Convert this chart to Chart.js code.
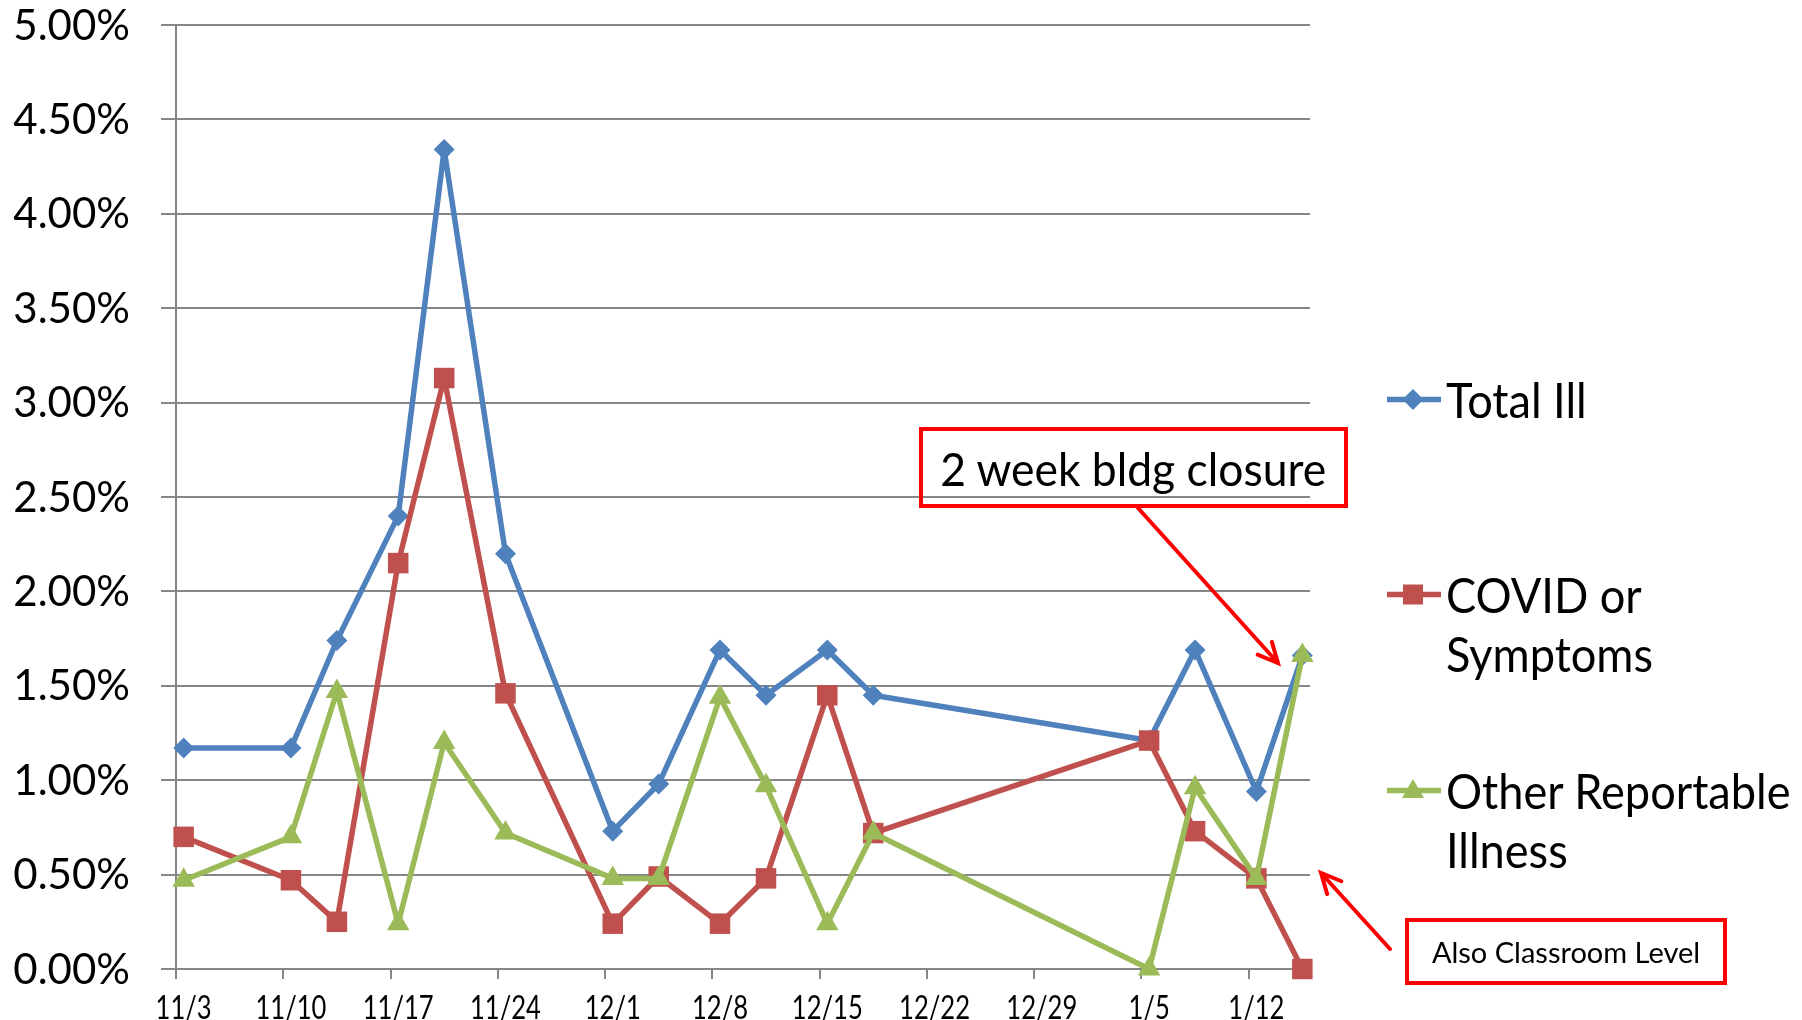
<!DOCTYPE html>
<html>
<head>
<meta charset="utf-8">
<script src="https://cdn.jsdelivr.net/npm/chart.js@4.4.1/dist/chart.umd.min.js"></script>
<style>
    html, body { margin: 0; padding: 0; background: #fff; }
    #wrap { position: relative; width: 1802px; height: 1020px; font-family: Lato, 'Liberation Sans', sans-serif; color: #000; }
    #chart { position: absolute; left: 0; top: 0; }
    .legend-item { position: absolute; left: 1386px; display: flex; align-items: flex-start; font-size: 48px; line-height: 59px; white-space: nowrap; }
    .legend-item svg { flex: none; margin-right: 4px; }
    .legend-item .txt { transform: scaleX(0.94); transform-origin: left center; }
    .note { position: absolute; box-sizing: border-box; border: 4px solid #ff0000; display: flex; align-items: center; justify-content: center; white-space: nowrap; }
    .note span { display: inline-block; transform-origin: center center; }
</style>
</head>
<body>
<div id="wrap">
    <canvas id="chart" width="1802" height="1020"></canvas>
    <div id="legend"></div>
    <div class="note" style="left:919px; top:427px; width:429px; height:81px; font-size:47px;"><span style="transform: scaleX(0.945);">2 week bldg closure</span></div>
    <div class="note" style="left:1405px; top:918px; width:322px; height:67px; font-size:29px;"><span>Also Classroom Level</span></div>
</div>
<script>
// report dates (Nov 2020 - Jan 2021)
const dates = ['2020-11-03', '2020-11-10', '2020-11-13', '2020-11-17', '2020-11-20', '2020-11-24',
    '2020-12-01', '2020-12-04', '2020-12-08', '2020-12-11', '2020-12-15', '2020-12-18',
    '2021-01-05', '2021-01-08', '2021-01-12', '2021-01-15'];

// percent of students
const totalIll = [1.17, 1.17, 1.74, 2.40, 4.34, 2.20, 0.73, 0.98, 1.69, 1.45, 1.69, 1.45, 1.21, 1.69, 0.94, 1.66];
const covid    = [0.70, 0.47, 0.25, 2.15, 3.13, 1.46, 0.24, 0.49, 0.24, 0.48, 1.45, 0.72, 1.21, 0.73, 0.48, 0.00];
const other    = [0.47, 0.70, 1.47, 0.24, 1.20, 0.72, 0.48, 0.48, 1.44, 0.97, 0.24, 0.72, 0.00, 0.96, 0.48, 1.66];

const seriesNames = ['Total Ill', ['COVID or', 'Symptoms'], ['Other Reportable', 'Illness']];
const axisStart = '2020-11-03';
const axisDays = 74;
const yTicks = { min: 0, max: 5, step: 0.5 };

const DAY = 86400000;
const t0 = Date.parse(axisStart);

// excel date axis puts each point (and label) in the middle of its day
function toPoints(values) {
    return values.map((v, i) => ({ x: (Date.parse(dates[i]) - t0) / DAY + 0.5, y: v }));
}

function dayLabel(value) {
    const d = new Date(t0 + value * DAY);
    return (d.getUTCMonth() + 1) + '/' + d.getUTCDate();
}

const colors = ['#4f81bd', '#c0504d', '#9bbb59'];
const shapes = ['rectRot', 'rect', 'triangle'];
const radii = [10.5, 14.5, 13];
const lineW = 5.5;

// legend (html so the wrapped labels sit like the original)
const legendTops = [370, 565, 761];
const legendEl = document.getElementById('legend');
seriesNames.forEach((name, i) => {
    const lines = Array.isArray(name) ? name : [name];
    let marker = '';
    if (i === 0) marker = '<polygon points="27,19 37.5,29.5 27,40 16.5,29.5" fill="' + colors[i] + '"/>';
    if (i === 1) marker = '<rect x="17" y="19.5" width="20" height="20" fill="' + colors[i] + '"/>';
    if (i === 2) marker = '<polygon points="27,18 38,37 16,37" fill="' + colors[i] + '"/>';
    const div = document.createElement('div');
    div.className = 'legend-item';
    div.style.top = legendTops[i] + 'px';
    div.innerHTML = '<svg width="56" height="59"><line x1="1" y1="29.5" x2="55" y2="29.5" stroke="' + colors[i] +
        '" stroke-width="' + lineW + '"/>' + marker + '</svg><div class="txt">' + lines.join('<br>') + '</div>';
    legendEl.appendChild(div);
});

// red call-out arrows
const arrows = [
    { from: [1138, 508], to: [1278, 663] },
    { from: [1390, 949], to: [1321, 873] }
];

const arrowPlugin = {
    id: 'arrows',
    afterDraw(chart) {
        const ctx = chart.ctx;
        ctx.save();
        ctx.strokeStyle = '#ff0000';
        ctx.lineWidth = 4;
        ctx.lineCap = 'round';
        arrows.forEach(a => {
            const [x1, y1] = a.from;
            const [x2, y2] = a.to;
            const ang = Math.atan2(y2 - y1, x2 - x1);
            ctx.beginPath();
            ctx.moveTo(x1, y1);
            ctx.lineTo(x2, y2);
            ctx.moveTo(x2 - 22 * Math.cos(ang - 0.45), y2 - 22 * Math.sin(ang - 0.45));
            ctx.lineTo(x2, y2);
            ctx.lineTo(x2 - 22 * Math.cos(ang + 0.45), y2 - 22 * Math.sin(ang + 0.45));
            ctx.stroke();
        });
        ctx.restore();
    }
};

// tick labels drawn by hand so the x labels can sit mid-day and be a bit narrow
const tickLabelPlugin = {
    id: 'tickLabels',
    afterDraw(chart) {
        const ctx = chart.ctx;
        const xs = chart.scales.x, ys = chart.scales.y;
        ctx.save();
        ctx.fillStyle = '#000';
        ctx.textBaseline = 'middle';

        ctx.font = '42px Lato';
        ctx.textAlign = 'right';
        ys.ticks.forEach(t => {
            ctx.fillText(t.value.toFixed(2) + '%', ys.right - 46, ys.getPixelForValue(t.value) + 1);
        });

        ctx.font = '32px Lato';
        ctx.textAlign = 'center';
        xs.ticks.forEach(t => {
            ctx.save();
            ctx.translate(xs.getPixelForValue(t.value + 0.5), xs.top + 40);
            ctx.scale(0.8, 1);
            ctx.fillText(dayLabel(t.value), 0, 0);
            ctx.restore();
        });
        ctx.restore();
    }
};

const plain = ['Total Ill', 'COVID or Symptoms', 'Other Reportable Illness'];
const datasets = [totalIll, covid, other].map((vals, i) => ({
    label: plain[i],
    data: toPoints(vals),
    borderColor: colors[i],
    backgroundColor: colors[i],
    borderWidth: lineW,
    borderJoinStyle: 'round',
    pointStyle: shapes[i],
    pointRadius: radii[i],
    pointBorderWidth: 0,
    pointBackgroundColor: colors[i],
    tension: 0,
    clip: false,
    order: 3 - i
}));

new Chart(document.getElementById('chart'), {
    type: 'line',
    data: { datasets: datasets },
    options: {
        responsive: false,
        animation: false,
        devicePixelRatio: 1,
        layout: { padding: { top: 25, right: 492, left: 0, bottom: 0 } },
        plugins: {
            legend: { display: false },
            tooltip: { enabled: false }
        },
        scales: {
            x: {
                type: 'linear',
                min: 0,
                max: axisDays,
                afterFit: s => { s.height = 51; s.paddingLeft = 0; s.paddingRight = 0; },
                grid: { drawOnChartArea: false, drawTicks: true, tickLength: 10, color: '#868686', lineWidth: 2 },
                border: { display: true, color: '#868686', width: 2 },
                ticks: { stepSize: 7, includeBounds: false, autoSkip: false, maxRotation: 0, display: false }
            },
            y: {
                min: yTicks.min,
                max: yTicks.max,
                afterFit: s => { s.width = 176; s.paddingTop = 0; s.paddingBottom = 0; },
                grid: { color: '#868686', lineWidth: 2, tickLength: 15 },
                border: { display: true, color: '#868686', width: 2 },
                ticks: { stepSize: yTicks.step, display: false }
            }
        }
    },
    plugins: [arrowPlugin, tickLabelPlugin]
});
</script>
</body>
</html>
